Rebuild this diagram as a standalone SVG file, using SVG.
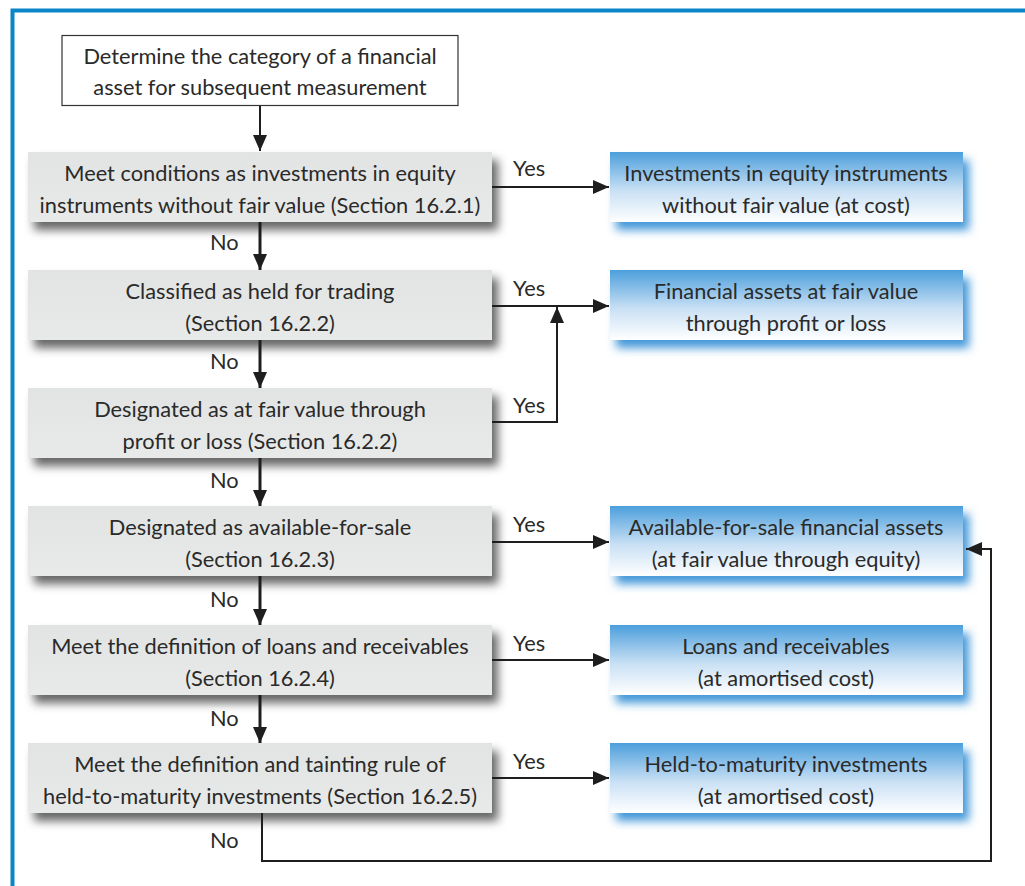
<svg xmlns="http://www.w3.org/2000/svg" width="1025" height="886" viewBox="0 0 1025 886">
  <style>
    text { font-family: Lato, "Open Sans", "Liberation Sans", sans-serif; font-size: 21.8px; fill: #2a2a2a; }
    .c { text-anchor: middle; }
    .gray { fill: url(#grayFill); filter: url(#grayShadow); }
    .blue { fill: url(#blueFill); filter: url(#blueShadow); }
    .line { fill: none; stroke: #1e1e1e; stroke-width: 2; }
    .thick { fill: none; stroke: #1e1e1e; stroke-width: 3; }
  </style>
  <defs>
    <linearGradient id="grayFill" x1="0" y1="0" x2="0" y2="1">
      <stop offset="0" stop-color="#e2e4e4"/>
      <stop offset="1" stop-color="#e8eaea"/>
    </linearGradient>
    <linearGradient id="blueFill" x1="0" y1="0" x2="0" y2="1">
      <stop offset="0" stop-color="#4c9fdc"/>
      <stop offset="0.55" stop-color="#c9e0f4"/>
      <stop offset="1" stop-color="#ffffff"/>
    </linearGradient>
    <filter id="grayShadow" x="-10%" y="-20%" width="125%" height="160%">
      <feDropShadow dx="6" dy="8" stdDeviation="5" flood-color="#000" flood-opacity="0.6"/>
    </filter>
    <filter id="blueShadow" x="-10%" y="-20%" width="125%" height="160%">
      <feDropShadow dx="6" dy="8" stdDeviation="5" flood-color="#2f8bd4" flood-opacity="0.9"/>
    </filter>
    <marker id="arrow" viewBox="0 0 16 14" refX="16" refY="7" markerWidth="16" markerHeight="14" markerUnits="userSpaceOnUse" orient="auto">
      <path d="M0,0 L16,7 L0,14 Z" fill="#1e1e1e"/>
    </marker>
  </defs>

  <!-- outer frame -->
  <path d="M12.5,886 V10.5 H1025" fill="none" stroke="#0a85c8" stroke-width="4"/>

  <!-- start -->
  <g id="start">
    <rect x="62" y="35.5" width="396" height="70" fill="#fff" stroke="#333" stroke-width="1.2"/>
    <text class="c" x="260" y="64">Determine the category of a financial</text>
    <text class="c" x="260" y="95">asset for subsequent measurement</text>
  </g>

  <!-- decisions -->
  <g id="q1">
    <rect class="gray" x="28" y="152" width="464" height="70"/>
    <text class="c" x="260" y="181">Meet conditions as investments in equity</text>
    <text class="c" x="260" y="213">instruments without fair value (Section 16.2.1)</text>
  </g>
  <g id="q2">
    <rect class="gray" x="28" y="270" width="464" height="70"/>
    <text class="c" x="260" y="299">Classified as held for trading</text>
    <text class="c" x="260" y="331">(Section 16.2.2)</text>
  </g>
  <g id="q3">
    <rect class="gray" x="28" y="388" width="464" height="70"/>
    <text class="c" x="260" y="417">Designated as at fair value through</text>
    <text class="c" x="260" y="449">profit or loss (Section 16.2.2)</text>
  </g>
  <g id="q4">
    <rect class="gray" x="28" y="506" width="464" height="70"/>
    <text class="c" x="260" y="535">Designated as available-for-sale</text>
    <text class="c" x="260" y="567">(Section 16.2.3)</text>
  </g>
  <g id="q5">
    <rect class="gray" x="28" y="625" width="464" height="70"/>
    <text class="c" x="260" y="654">Meet the definition of loans and receivables</text>
    <text class="c" x="260" y="686">(Section 16.2.4)</text>
  </g>
  <g id="q6">
    <rect class="gray" x="28" y="743" width="464" height="70"/>
    <text class="c" x="260" y="772">Meet the definition and tainting rule of</text>
    <text class="c" x="260" y="804">held-to-maturity investments (Section 16.2.5)</text>
  </g>

  <!-- outcomes -->
  <g id="r1">
    <rect class="blue" x="610" y="152" width="353" height="70"/>
    <text class="c" x="786" y="181">Investments in equity instruments</text>
    <text class="c" x="786" y="213">without fair value (at cost)</text>
  </g>
  <g id="r2">
    <rect class="blue" x="610" y="270" width="353" height="70"/>
    <text class="c" x="786" y="299">Financial assets at fair value</text>
    <text class="c" x="786" y="331">through profit or loss</text>
  </g>
  <g id="r3">
    <rect class="blue" x="610" y="506" width="353" height="70"/>
    <text class="c" x="786" y="535">Available-for-sale financial assets</text>
    <text class="c" x="786" y="567">(at fair value through equity)</text>
  </g>
  <g id="r4">
    <rect class="blue" x="610" y="625" width="353" height="70"/>
    <text class="c" x="786" y="654">Loans and receivables</text>
    <text class="c" x="786" y="686">(at amortised cost)</text>
  </g>
  <g id="r5">
    <rect class="blue" x="610" y="743" width="353" height="70"/>
    <text class="c" x="786" y="772">Held-to-maturity investments</text>
    <text class="c" x="786" y="804">(at amortised cost)</text>
  </g>

  <!-- connectors -->
  <g id="connectors">
    <path class="line" d="M260,106 V151" marker-end="url(#arrow)"/>
    <path class="thick" d="M260,222 V270" marker-end="url(#arrow)"/>
    <path class="thick" d="M260,340 V388" marker-end="url(#arrow)"/>
    <path class="thick" d="M260,458 V506" marker-end="url(#arrow)"/>
    <path class="thick" d="M260,576 V625" marker-end="url(#arrow)"/>
    <path class="thick" d="M260,695 V743" marker-end="url(#arrow)"/>

    <path class="line" d="M492,187 H609" marker-end="url(#arrow)"/>
    <path class="line" d="M492,306 H609" marker-end="url(#arrow)"/>
    <path class="line" d="M492,422 H557 V307" marker-end="url(#arrow)"/>
    <path class="line" d="M492,542 H609" marker-end="url(#arrow)"/>
    <path class="line" d="M492,660 H609" marker-end="url(#arrow)"/>
    <path class="line" d="M492,778 H609" marker-end="url(#arrow)"/>
    <path class="line" d="M262,813 V861 H991 V549 H966" marker-end="url(#arrow)"/>

    <text x="513" y="176">Yes</text>
    <text x="513" y="296">Yes</text>
    <text x="513" y="413">Yes</text>
    <text x="513" y="532">Yes</text>
    <text x="513" y="651">Yes</text>
    <text x="513" y="769">Yes</text>

    <text x="210" y="250">No</text>
    <text x="210" y="369">No</text>
    <text x="210" y="488">No</text>
    <text x="210" y="607">No</text>
    <text x="210" y="726">No</text>
    <text x="210" y="848">No</text>
  </g>
</svg>
